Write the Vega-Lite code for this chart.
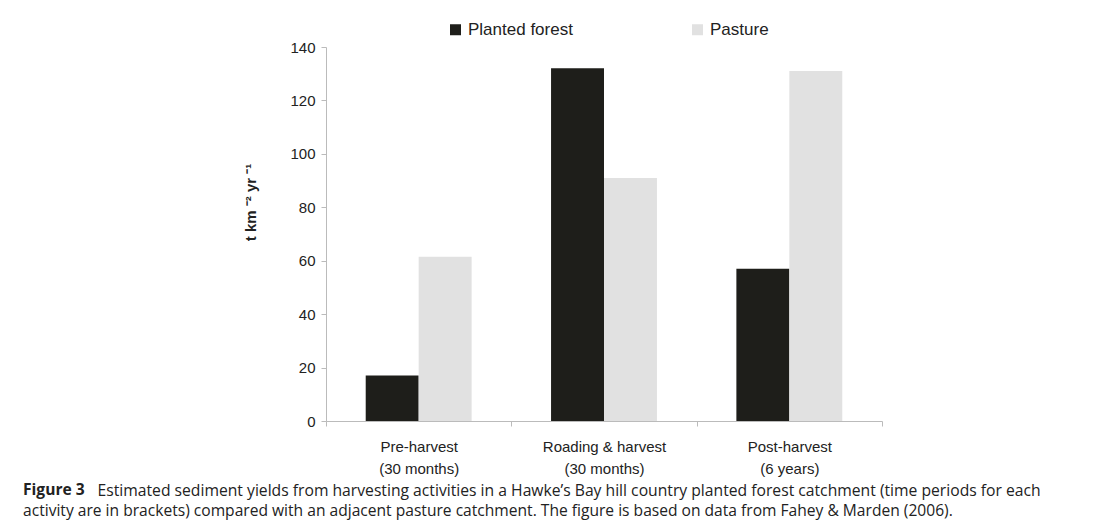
{
  "$schema": "https://vega.github.io/schema/vega-lite/v6.json",
  "width": 556,
  "height": 374,
  "autosize": {"type": "none"},
  "padding": {"left": 326, "top": 47, "right": 216, "bottom": 108},
  "background": "white",
  "title": {
    "text": "Figure 3",
    "subtitle": "activity are in brackets) compared with an adjacent pasture catchment. The figure is based on data from Fahey & Marden (2006).",
    "orient": "bottom",
    "anchor": "start",
    "frame": "group",
    "dx": -303,
    "offset": -15,
    "font": "Open Sans",
    "fontSize": 15.6,
    "fontWeight": "bold",
    "color": "#222222",
    "subtitleFont": "Open Sans",
    "subtitleFontSize": 15.6,
    "subtitleColor": "#222222",
    "subtitlePadding": 6
  },
  "data": {
    "values": [
      {"period": "Pre-harvest (30 months)", "series": "Planted forest", "yield": 17},
      {"period": "Pre-harvest (30 months)", "series": "Pasture", "yield": 61.5},
      {"period": "Roading & harvest (30 months)", "series": "Planted forest", "yield": 132},
      {"period": "Roading & harvest (30 months)", "series": "Pasture", "yield": 91},
      {"period": "Post-harvest (6 years)", "series": "Planted forest", "yield": 57},
      {"period": "Post-harvest (6 years)", "series": "Pasture", "yield": 131}
    ]
  },
  "mark": {"type": "bar"},
  "encoding": {
    "x": {
      "field": "period",
      "type": "nominal",
      "sort": ["Pre-harvest (30 months)", "Roading & harvest (30 months)", "Post-harvest (6 years)"],
      "scale": {"paddingInner": 0, "paddingOuter": 0},
      "axis": {
        "labelAngle": 0,
        "labelExpr": "[slice(datum.label, 0, indexof(datum.label, ' (')), slice(datum.label, indexof(datum.label, ' (') + 1)]",
        "labelFont": "Liberation Sans",
        "labelFontSize": 15,
        "labelLineHeight": 22,
        "labelColor": "#222222",
        "labelPadding": 13,
        "tickBand": "extent",
        "tickSize": 5,
        "tickColor": "#bbbbbb",
        "domainColor": "#bbbbbb",
        "title": "Estimated sediment yields from harvesting activities in a Hawke\u2019s Bay hill country planted forest catchment (time periods for each",
        "titleX": -229,
        "titleY": 74,
        "titleAlign": "left",
        "titleBaseline": "alphabetic",
        "titleFont": "Open Sans",
        "titleFontSize": 15.7,
        "titleFontWeight": "normal",
        "titleColor": "#222222"
      }
    },
    "xOffset": {
      "field": "series",
      "sort": ["Planted forest", "Pasture"],
      "scale": {"paddingInner": 0, "paddingOuter": 0.75}
    },
    "y": {
      "field": "yield",
      "type": "quantitative",
      "scale": {"domain": [0, 140], "nice": false},
      "axis": {
        "values": [0, 20, 40, 60, 80, 100, 120, 140],
        "grid": false,
        "labelFont": "Liberation Sans",
        "labelFontSize": 15,
        "labelColor": "#222222",
        "labelPadding": 6,
        "tickSize": 5,
        "tickColor": "#bbbbbb",
        "domainColor": "#bbbbbb",
        "title": "t km \u207b\u00b2 yr \u207b\u00b9",
        "titleFont": "Liberation Sans",
        "titleFontSize": 15,
        "titleFontWeight": "bold",
        "titleColor": "#222222",
        "titleAngle": -90,
        "titleX": -76,
        "titleY": 155,
        "titleAlign": "center",
        "titleBaseline": "middle"
      }
    },
    "color": {
      "field": "series",
      "type": "nominal",
      "scale": {"domain": ["Planted forest", "Pasture"], "range": ["#1e1e1a", "#e1e1e1"]},
      "legend": {
        "title": null,
        "orient": "none",
        "legendX": 121,
        "legendY": -26,
        "direction": "horizontal",
        "symbolType": "square",
        "symbolSize": 121,
        "symbolStrokeWidth": 0,
        "labelFont": "Liberation Sans",
        "labelFontSize": 17,
        "labelColor": "#222222",
        "labelOffset": 4,
        "columnPadding": 116
      }
    }
  },
  "config": {"view": {"stroke": null}}
}
